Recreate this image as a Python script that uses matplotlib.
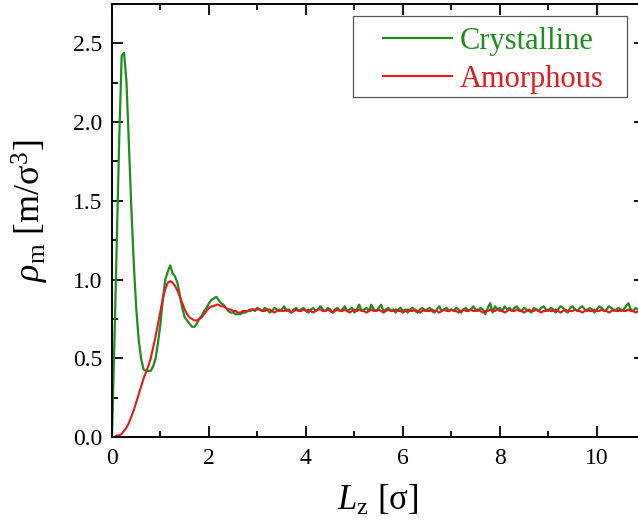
import numpy as np
import matplotlib
matplotlib.use("Agg")
import matplotlib.pyplot as plt
from matplotlib.patches import Rectangle
from matplotlib.ticker import MultipleLocator, FormatStrFormatter

plt.rcParams['font.family'] = ['Liberation Serif', 'DejaVu Serif']
plt.rcParams['mathtext.fontset'] = 'custom'
plt.rcParams['mathtext.rm'] = 'Liberation Serif'
plt.rcParams['mathtext.it'] = 'Liberation Serif:italic'

# density profiles, sampled every 0.05 sigma from the wall
z = np.round(np.arange(0, 11.0001, 0.05), 2)

crystalline = [
    0.00, 0.60, 1.25, 1.90, 2.42, 2.44, 2.25, 1.85, 1.45, 1.10,
    0.82, 0.62, 0.50, 0.43, 0.42, 0.42, 0.42, 0.45, 0.50, 0.60,
    0.72, 0.88, 1.00, 1.05, 1.09, 1.04, 1.02, 0.98, 0.90, 0.82,
    0.76, 0.74, 0.72, 0.70, 0.70, 0.72, 0.75, 0.77, 0.80, 0.82,
    0.85, 0.87, 0.88, 0.89, 0.87, 0.85, 0.84, 0.82, 0.80, 0.79,
    0.79, 0.78, 0.78, 0.78, 0.79, 0.79, 0.80, 0.80, 0.81, 0.80,
    0.82,
    0.81, 0.80, 0.82, 0.81, 0.79, 0.80, 0.82, 0.81, 0.80, 0.81,
    0.83, 0.80, 0.81, 0.79, 0.81, 0.82, 0.80, 0.81, 0.82, 0.80,
    0.79, 0.81, 0.82, 0.80, 0.81, 0.83, 0.81, 0.80, 0.82, 0.81,
    0.79, 0.81, 0.82, 0.80, 0.81, 0.83, 0.80, 0.81, 0.82, 0.79,
    0.81, 0.84, 0.80, 0.81, 0.82, 0.80, 0.84, 0.81, 0.80, 0.82,
    0.84, 0.80, 0.81, 0.82, 0.80, 0.81, 0.79, 0.81, 0.82, 0.80,
    0.81, 0.79, 0.81, 0.82, 0.80, 0.79, 0.81, 0.82, 0.80, 0.81,
    0.82, 0.80, 0.79, 0.81, 0.83, 0.80, 0.81, 0.82, 0.80, 0.81,
    0.80, 0.82, 0.81, 0.79, 0.81, 0.82, 0.80, 0.81, 0.83, 0.81,
    0.80, 0.82, 0.81, 0.78, 0.82, 0.85, 0.79, 0.83, 0.81, 0.82,
    0.80, 0.83, 0.81, 0.82, 0.80, 0.82, 0.83, 0.81, 0.80, 0.82,
    0.81, 0.80, 0.79, 0.82, 0.81, 0.80, 0.82, 0.83, 0.81, 0.80,
    0.82, 0.81, 0.79, 0.81, 0.83, 0.82, 0.80, 0.79, 0.82, 0.83,
    0.81, 0.80, 0.82, 0.83, 0.81, 0.80, 0.82, 0.81, 0.79, 0.81,
    0.83, 0.82, 0.80, 0.81, 0.83, 0.82, 0.80, 0.81, 0.82, 0.80,
    0.81, 0.83, 0.85, 0.81, 0.80, 0.82, 0.81, 0.80, 0.81, 0.80,
]

amorphous = [
    0.00, 0.00, 0.01, 0.01, 0.02, 0.04, 0.06, 0.09, 0.13, 0.17,
    0.22, 0.27, 0.32, 0.37, 0.41, 0.45, 0.50, 0.57, 0.64, 0.72,
    0.80, 0.88, 0.94, 0.98, 0.99, 0.98, 0.96, 0.93, 0.89, 0.85,
    0.81, 0.78, 0.76, 0.75, 0.74, 0.74, 0.75, 0.76, 0.78, 0.80,
    0.82, 0.83, 0.83, 0.84, 0.84, 0.83, 0.83, 0.82, 0.81, 0.81,
    0.80, 0.80, 0.79, 0.79, 0.80, 0.80, 0.80, 0.81, 0.81, 0.81,
    0.81,
    0.81, 0.80, 0.80, 0.81, 0.81, 0.80, 0.79, 0.80, 0.81, 0.80,
    0.80, 0.81, 0.80, 0.79, 0.80, 0.81, 0.80, 0.80, 0.81, 0.80,
    0.81, 0.80, 0.79, 0.80, 0.81, 0.81, 0.80, 0.80, 0.81, 0.80,
    0.79, 0.80, 0.81, 0.80, 0.80, 0.81, 0.80, 0.79, 0.80, 0.81,
    0.80, 0.81, 0.80, 0.80, 0.79, 0.80, 0.81, 0.80, 0.80, 0.81,
    0.80, 0.79, 0.80, 0.81, 0.80, 0.80, 0.81, 0.80, 0.80, 0.79,
    0.80, 0.81, 0.80, 0.80, 0.81, 0.80, 0.79, 0.80, 0.81, 0.80,
    0.80, 0.81, 0.80, 0.80, 0.79, 0.80, 0.81, 0.80, 0.80, 0.81,
    0.80, 0.80, 0.79, 0.80, 0.81, 0.80, 0.80, 0.81, 0.80, 0.80,
    0.81, 0.80, 0.79, 0.80, 0.80, 0.81, 0.80, 0.80, 0.81, 0.80,
    0.80, 0.79, 0.80, 0.81, 0.80, 0.80, 0.81, 0.80, 0.80, 0.79,
    0.80, 0.81, 0.80, 0.80, 0.81, 0.80, 0.79, 0.80, 0.80, 0.81,
    0.80, 0.80, 0.81, 0.80, 0.79, 0.80, 0.81, 0.80, 0.80, 0.80,
    0.81, 0.80, 0.80, 0.79, 0.80, 0.81, 0.80, 0.80, 0.81, 0.80,
    0.80, 0.81, 0.80, 0.80, 0.79, 0.80, 0.81, 0.80, 0.80, 0.81,
    0.80, 0.80, 0.81, 0.80, 0.80, 0.79, 0.80, 0.81, 0.80, 0.80,
]

green = '#1e8c1e'
red = '#e8181c'

W, H = 638, 524
fig = plt.figure(figsize=(W / 100, H / 100), dpi=100)
ax = fig.add_axes([0.1755, 0.166, 0.836, 0.8265])

ax.plot(z, crystalline, color=green, lw=1.6, label='Crystalline')
ax.plot(z, amorphous, color=red, lw=1.5, label='Amorphous')

ax.set_xlim(0, 11)
ax.set_ylim(0, 2.75)
ax.xaxis.set_major_locator(MultipleLocator(2))
ax.xaxis.set_minor_locator(MultipleLocator(1))
ax.yaxis.set_major_locator(MultipleLocator(0.5))
ax.yaxis.set_minor_locator(MultipleLocator(0.25))
ax.yaxis.set_major_formatter(FormatStrFormatter('%.1f'))

ax.tick_params(which='both', direction='in', top=True, right=True,
               width=1.3, labelsize=17)
ax.tick_params(which='major', length=8)
ax.tick_params(which='minor', length=4)
ax.tick_params(axis='x', pad=8)
ax.tick_params(axis='y', pad=7)
for s in ax.spines.values():
    s.set_linewidth(1.4)

ax.set_xlabel(r'$L_\mathrm{z}$ [σ]', fontsize=25)
ax.set_ylabel(r'$\rho_\mathrm{m}$ [m/σ$^3$]', fontsize=26)
ax.xaxis.set_label_coords(0.499, -0.108)
ax.yaxis.set_label_coords(-0.114, 0.522)

# legend entries without frame, box drawn separately with wide side margins
leg = ax.legend(loc='upper left', bbox_to_anchor=(383 / W, 1 - 27 / H),
                bbox_transform=fig.transFigure, borderaxespad=0, borderpad=0,
                frameon=False, fontsize=22, handlelength=2.25,
                handletextpad=0.25, labelspacing=0.3)
for text, c in zip(leg.get_texts(), [green, red]):
    text.set_color(c)

box = Rectangle((353 / W, 1 - 97 / H), 274 / W, 81 / H,
                transform=fig.transFigure, fill=False,
                edgecolor='#555555', lw=0.9, zorder=5)
fig.add_artist(box)

fig.savefig('out.png', dpi=100)
